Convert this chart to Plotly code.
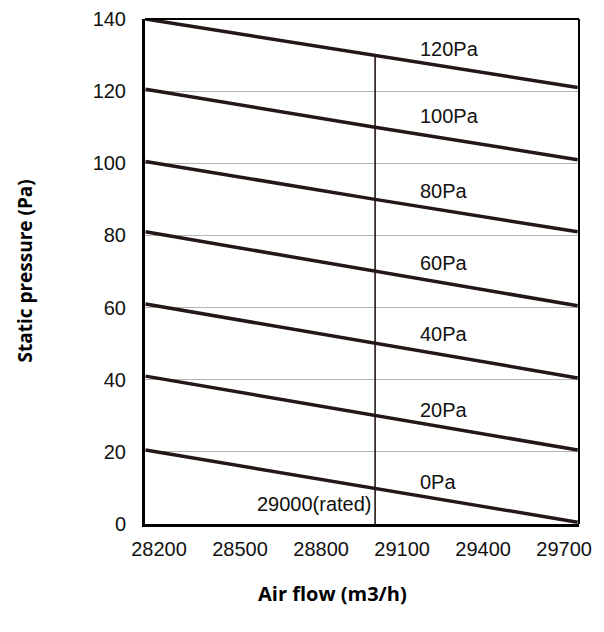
import plotly.graph_objects as go

# air flow (m3/h) sample points
airflow = [28150, 29000, 29750]

# static pressure curves, one per external static pressure setting
curve_names = ["120Pa", "100Pa", "80Pa", "60Pa", "40Pa", "20Pa", "0Pa"]
curve_values = [
    [140, 130, 121],
    [120.5, 110, 101],
    [100.5, 90, 81],
    [81, 70, 60.5],
    [61, 50, 40.5],
    [41, 30, 20.5],
    [20.5, 10, 0.5],
]
label_x = 29160
label_y = [131.8, 113, 92.3, 72.4, 52.7, 31.6, 11.6]

rated_flow = 29000
rated_top = 130

x_ticks = [28200, 28500, 28800, 29100, 29400, 29700]
y_ticks = [0, 20, 40, 60, 80, 100, 120, 140]

line_color = "#231815"
tick_font = dict(family="Liberation Sans, Arial", size=20, color="#111111")

fig = go.Figure()

for name, vals in zip(curve_names, curve_values):
    fig.add_trace(go.Scatter(x=airflow, y=vals, mode="lines", name=name,
                             line=dict(color=line_color, width=3.5)))

fig.add_trace(go.Scatter(x=[rated_flow, rated_flow], y=[0, rated_top], mode="lines",
                         line=dict(color=line_color, width=1.6), name="rated"))

for name, ly in zip(curve_names, label_y):
    fig.add_annotation(x=label_x, y=ly, text=name, showarrow=False,
                       xanchor="left", yanchor="middle", font=tick_font)

fig.add_annotation(x=rated_flow, y=5.5, text="29000(rated)", showarrow=False,
                   xanchor="right", yanchor="middle", xshift=-1, font=tick_font)

title_font = dict(family="Open Sans", size=20, color="#000000")
fig.add_annotation(x=0.431, y=0, xref="paper", yref="paper", text="<b>Air flow (m3/h)</b>",
                   showarrow=False, xanchor="center", yanchor="middle", yshift=-69,
                   font=title_font)
fig.add_annotation(x=0, y=0.5, xref="paper", yref="paper", text="<b>Static pressure (Pa)</b>",
                   showarrow=False, xanchor="center", yanchor="middle", xshift=-121,
                   textangle=-90, font=dict(family="Open Sans", size=19, color="#000000"))

# top and right frame
fig.add_shape(type="line", xref="paper", yref="paper", x0=0, x1=1, y0=1, y1=1,
              line=dict(color="black", width=2))
fig.add_shape(type="line", xref="paper", yref="paper", x0=1, x1=1, y0=0, y1=1,
              line=dict(color="black", width=2))

fig.update_layout(
    width=596,
    height=624,
    showlegend=False,
    plot_bgcolor="white",
    paper_bgcolor="white",
    margin=dict(l=137, r=25, t=11, b=108),
)

fig.update_xaxes(
    range=[28148, 29755],
    tickmode="array",
    tickvals=x_ticks,
    ticktext=[str(v) for v in x_ticks],
    showgrid=False,
    zeroline=False,
    showline=True,
    linecolor="black",
    linewidth=3,
    ticks="",
    ticklabelstandoff=5,
    tickfont=tick_font,
    automargin=False,
)

fig.update_yaxes(
    range=[0, 140],
    tickmode="array",
    tickvals=y_ticks,
    showgrid=True,
    gridcolor="#b4b4b4",
    gridwidth=1,
    zeroline=False,
    showline=True,
    linecolor="black",
    linewidth=3,
    ticks="",
    ticklabelstandoff=12,
    tickfont=tick_font,
    automargin=False,
)

fig.write_html("out.html")
